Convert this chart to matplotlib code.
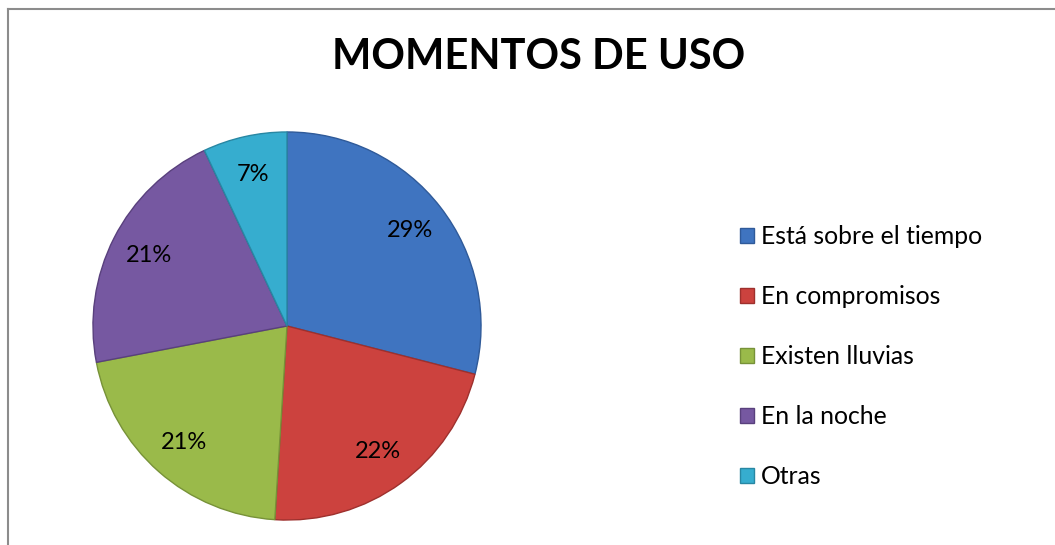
import matplotlib
matplotlib.use("Agg")
from matplotlib import pyplot as plt
from matplotlib.lines import Line2D

plt.rcParams['font.family'] = ['Lato', 'DejaVu Sans']

labels = ['Está sobre el tiempo', 'En compromisos', 'Existen lluvias', 'En la noche', 'Otras']
values = [29, 22, 21, 21, 7]
colors = ['#3f74c0', '#cc423e', '#9aba4a', '#7658a1', '#36adcf']
edges = ['#2f5a99', '#9e302d', '#779238', '#59407d', '#2887a3']

fig = plt.figure(figsize=(10.55, 5.45), dpi=100)

# chart border (gray frame, cut off at the right/bottom)
fig.add_artist(Line2D([7.5 / 1055, 7.5 / 1055], [0, 1 - 8.5 / 545], color='#8c8c8c', lw=1.5))
fig.add_artist(Line2D([7.5 / 1055, 1], [1 - 8.5 / 545, 1 - 8.5 / 545], color='#8c8c8c', lw=1.5))

ax = fig.add_axes([92 / 1055, 24 / 545, 390 / 1055, 390 / 545])
wedges, texts, autotexts = ax.pie(
    values, colors=colors, startangle=90, counterclock=False,
    autopct='%1.0f%%', pctdistance=0.8,
    wedgeprops=dict(linewidth=1, edgecolor='#444444'),
    textprops=dict(fontsize=17, color='black'))
for w, e in zip(wedges, edges):
    w.set_edgecolor(e)
ax.set_xlim(-1.005, 1.005)
ax.set_ylim(-1.005, 1.005)
ax.set_aspect('equal')

fig.text(539 / 1055, 1 - 57 / 545, 'MOMENTOS DE USO', ha='center', va='center',
         fontsize=30, fontweight='bold')

fig.legend(wedges, labels, loc='upper left', bbox_to_anchor=(740 / 1055, 1 - 225 / 545),
           frameon=False, fontsize=17.8, handlelength=0.55, handleheight=0.55,
           handletextpad=0.3, labelspacing=1.5, borderpad=0, borderaxespad=0)

fig.savefig('out.png', dpi=100, facecolor='white')
